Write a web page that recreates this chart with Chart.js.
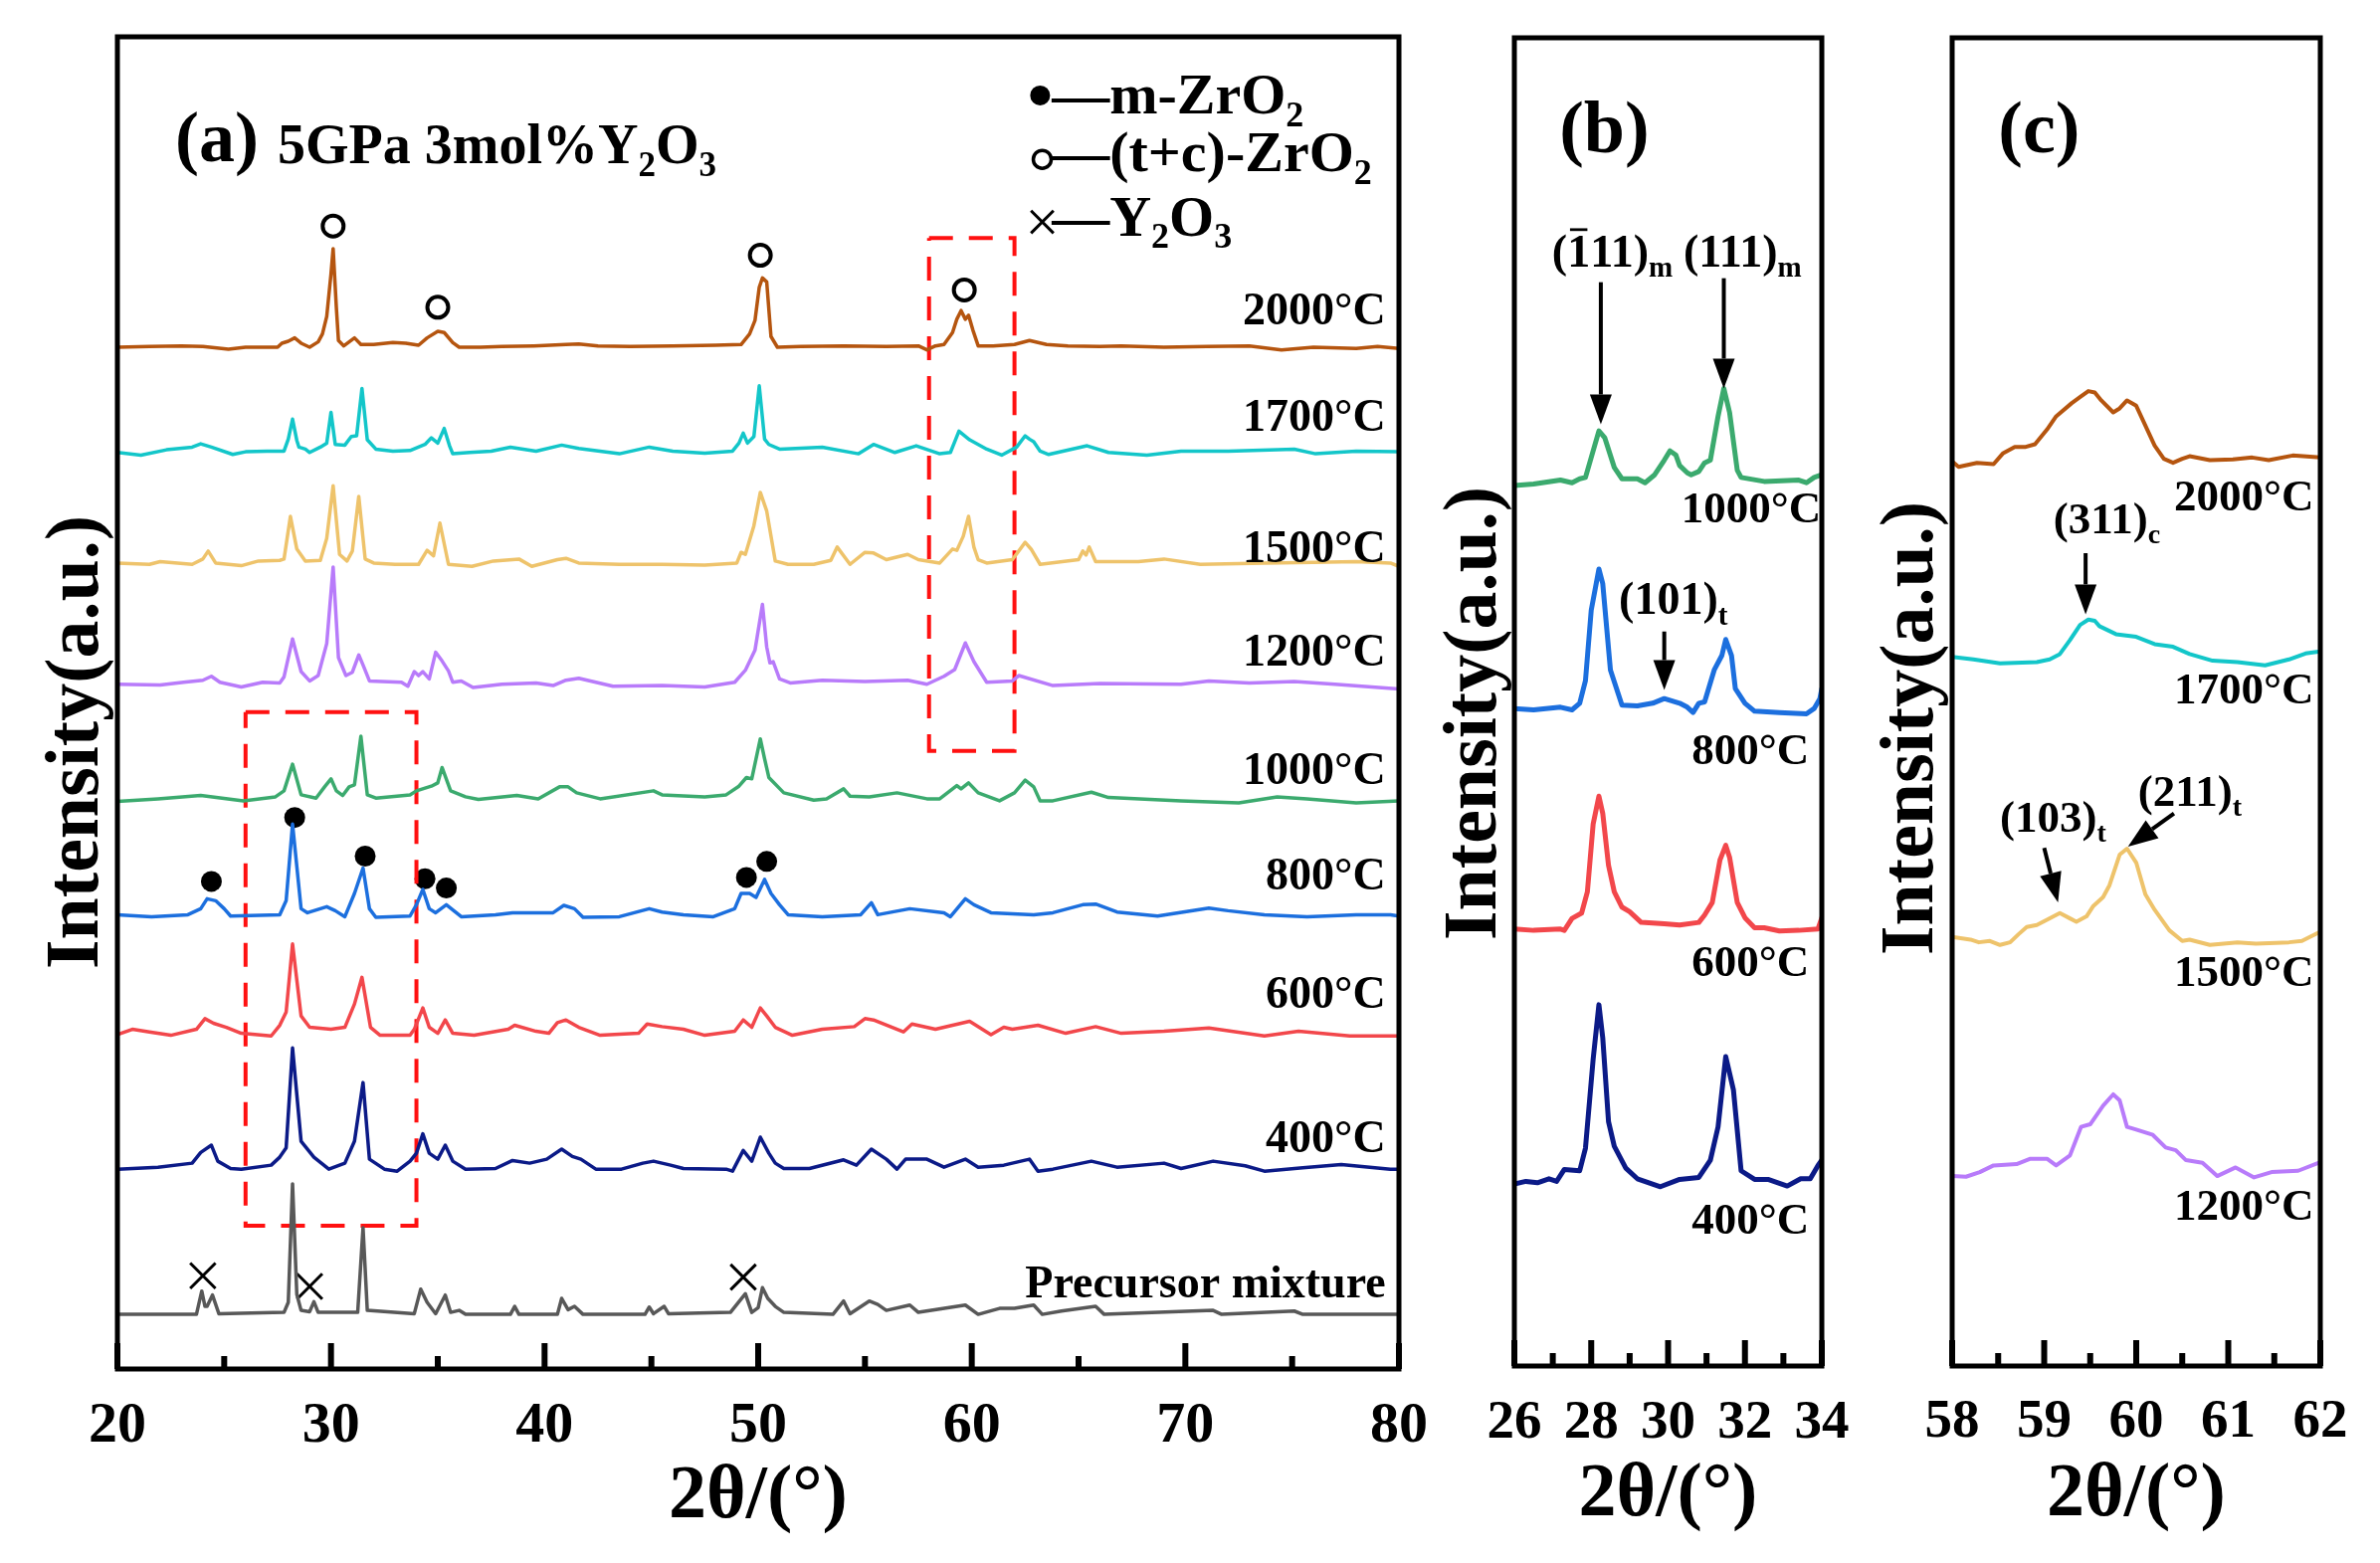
<!DOCTYPE html>
<html lang="en">
<head>
<meta charset="UTF-8">
<title>XRD patterns, 5GPa 3mol% Y2O3</title>
<style>
  body { margin: 0; background: #fff; }
  .panel { position: absolute; left: 0; top: 0; width: 2392px; height: 1571px; }
</style>
</head>
<body>
<div class="panel"><canvas id="chartA"></canvas></div>
<div class="panel"><canvas id="chartB"></canvas></div>
<div class="panel"><canvas id="chartC"></canvas></div>

<script src="https://cdn.jsdelivr.net/npm/chart.js"></script>
<script>
// ---------- panel (a): 2θ 20-80, stacked patterns ----------
const ticksA = [20, 30, 40, 50, 60, 70, 80];
const namesA = ['2000°C', '1700°C', '1500°C', '1200°C', '1000°C', '800°C', '600°C', '400°C', 'Precursor mixture'];
const offsetsA = [76.7, 68.8, 60.5, 51.4, 42.8, 34.1, 25.2, 15.0, 4.1];
const colorsA = ['#B5550F', '#13C6C9', '#EEC36B', '#B87BFA', '#3BAA6E', '#1C6FDE', '#F2474B', '#0B1A87', '#585858'];

// [2θ, intensity above baseline]
const a2000 = [[20,0],[21.5,0.05],[23,0.1],[24,0.05],[25.2,-0.15],[26,0],[27.5,0],[27.7,0.3],[28.0,0.45],[28.3,0.7],[28.6,0.3],[29.0,0],[29.4,0.4],[29.6,1.0],[29.8,2.3],[30.0,5.5],[30.1,7.4],[30.25,3.0],[30.35,0.5],[30.6,0.1],[31.1,0.7],[31.4,0.2],[32.0,0.2],[32.9,0.35],[33.5,0.3],[34.1,0.15],[34.5,0.7],[35.0,1.2],[35.3,1.1],[35.7,0.35],[36.0,0],[37,0],[38,0.05],[39.5,0.1],[41.0,0.2],[41.6,0.25],[42.5,0.1],[44,0.05],[46,0.1],[48,0.15],[49.2,0.2],[49.6,1.0],[49.85,2.0],[50.05,4.5],[50.2,5.2],[50.4,4.9],[50.6,0.8],[50.9,0],[52,0.05],[54,0.1],[56,0.05],[57.5,0.1],[57.9,-0.2],[58.3,0.1],[58.7,0.2],[59.1,1.1],[59.3,2.1],[59.5,2.75],[59.7,2.1],[59.85,2.4],[60.05,1.3],[60.3,0.1],[61,0.1],[62,0.2],[62.7,0.5],[63.5,0.2],[64.5,0.1],[66,0.05],[67,0.1],[69,0],[71,0.05],[73,0.1],[74.5,-0.2],[76,0],[78,-0.1],[79,0.05],[80,-0.1]];
const a1700 = [[20,0],[21.1,-0.2],[22.3,0.2],[23.5,0.4],[23.9,0.65],[24.4,0.4],[25.4,-0.15],[26,0.05],[27,0.1],[27.8,0.1],[28.0,1.0],[28.2,2.5],[28.4,0.9],[28.5,0.4],[28.8,0.25],[29.0,0],[29.5,0.4],[29.8,0.7],[30.0,3.0],[30.2,0.6],[30.65,0.55],[30.95,1.2],[31.2,1.25],[31.45,4.8],[31.7,0.95],[32.1,0.25],[32.9,0.1],[33.7,0.15],[34.4,0.6],[34.7,1.1],[35.0,0.7],[35.3,1.8],[35.55,0.5],[35.7,-0.1],[36.5,0],[37.5,0.1],[38.4,0.4],[39.6,0.1],[40.8,0.55],[41.6,0.3],[43.5,-0.1],[44.9,0.4],[46,0.1],[47.5,-0.05],[48.8,0.1],[49.1,0.7],[49.3,1.45],[49.5,0.7],[49.8,1.2],[50.05,5.0],[50.3,1.0],[50.5,0.6],[51.0,0.25],[53.0,0.4],[54.7,-0.1],[55.4,0.6],[56.4,0],[57.4,0.5],[58.5,-0.1],[59.0,0],[59.2,0.8],[59.4,1.6],[59.9,0.95],[60.7,0.25],[61.4,-0.2],[62.1,0.4],[62.5,1.25],[62.7,1.0],[62.9,0.8],[63.2,0.1],[63.6,-0.15],[65.4,0.5],[66.4,0],[68.2,-0.2],[69.8,0.1],[72,0.1],[75.1,0.25],[76.1,-0.1],[78,0.1],[80,0.05]];
const a1500 = [[20,0],[21.5,-0.1],[22,0.1],[23.5,-0.1],[24.0,0.3],[24.25,0.9],[24.6,0],[25.8,-0.2],[26.6,0.15],[27.6,0.2],[27.8,0.3],[28.1,3.5],[28.4,1.05],[28.8,0.15],[29.5,0.2],[29.8,1.85],[30.1,5.8],[30.4,0.65],[30.75,0.15],[31.0,0.9],[31.3,5.0],[31.6,0.3],[32.0,0],[33.0,-0.1],[34.1,-0.1],[34.5,0.95],[34.8,0.55],[35.1,3.0],[35.5,-0.1],[36.6,-0.25],[37.6,0.15],[38.8,0.3],[39.4,-0.25],[40.6,0.25],[41.0,0.35],[41.6,0],[43.5,-0.1],[45.5,-0.1],[47.5,-0.15],[49.0,0],[49.2,0.8],[49.4,0.65],[49.8,2.8],[50.1,5.3],[50.4,3.9],[50.8,0.15],[51.4,-0.1],[52.6,-0.1],[53.4,0.2],[53.7,1.2],[54.3,-0.1],[55.0,0.8],[55.4,0.75],[56.0,0.25],[57.0,0.65],[57.5,0.25],[58.5,0],[59.1,1.05],[59.3,0.95],[59.6,2.0],[59.85,3.5],[60.1,1.2],[60.3,0.25],[60.7,0],[61.9,0.25],[62.5,1.55],[62.8,1.0],[63.2,-0.1],[65.0,0.25],[65.2,0.9],[65.35,0.6],[65.5,1.2],[65.8,0.1],[67.8,0.1],[69.0,0.3],[70.7,-0.1],[73.7,0],[76,0.05],[78,0.1],[79.6,0],[80,-0.25]];
const a1200 = [[20,0],[22,-0.05],[23.1,0.15],[24.0,0.3],[24.4,0.6],[24.8,0.15],[25.8,-0.2],[26.8,0.15],[27.6,0.1],[27.8,0.55],[28.2,3.4],[28.6,0.95],[29.0,0.25],[29.4,0.65],[29.8,3.05],[30.1,8.8],[30.35,2.0],[30.7,0.65],[31.0,0.9],[31.3,2.2],[31.5,1.45],[31.8,0.25],[33.3,0.15],[33.6,-0.15],[33.9,0.95],[34.1,0.65],[34.3,0.95],[34.6,0.4],[34.9,2.4],[35.2,1.75],[35.5,1.0],[35.7,0.15],[36.1,0.25],[36.65,-0.25],[38,0],[39.6,0.1],[40.4,-0.1],[41.0,0.3],[41.6,0.45],[43.2,-0.15],[45.5,-0.1],[47.5,-0.2],[48.9,0.15],[49.4,1.05],[49.85,2.55],[50.2,6.0],[50.4,2.8],[50.55,1.6],[50.7,1.7],[51.0,0.4],[51.5,0.1],[53.0,0.3],[55,0.2],[57.0,0.3],[57.9,0],[58.7,0.6],[59.2,1.1],[59.7,3.1],[60.1,1.7],[60.7,0.15],[61.9,0.25],[62.2,0.65],[63.8,-0.1],[66,0.05],[69.8,0],[71.1,0.25],[73,0.1],[75.1,0.2],[77,0],[80,-0.35]];
const a1000 = [[20,-0.2],[21.9,0],[23.9,0.25],[25.9,-0.15],[27.4,0.15],[27.8,0.6],[28.2,2.6],[28.6,0.3],[29.3,0.05],[29.7,0.9],[30.0,1.5],[30.25,0.6],[30.55,0.25],[30.85,0.9],[31.1,1.05],[31.4,4.7],[31.7,0.3],[32.1,0.05],[33.7,0.3],[34.0,0.6],[34.7,0.95],[35.0,1.2],[35.2,2.35],[35.6,0.6],[36.3,0.15],[36.9,-0.05],[38.7,0.25],[39.7,0],[40.7,0.9],[41.1,0.9],[41.5,0.45],[42.6,0],[45.1,0.6],[45.5,0.3],[47.5,0.15],[48.5,0.3],[49.1,0.95],[49.45,1.6],[49.7,1.5],[50.1,4.5],[50.3,3.0],[50.5,1.6],[51.2,0.45],[52.6,-0.1],[53.2,0],[54.0,0.75],[54.3,0.2],[55.2,0.15],[56.5,0.45],[57.9,0],[58.5,0],[59.3,1.0],[59.5,0.75],[59.85,1.2],[60.3,0.45],[61.3,-0.15],[62.0,0.45],[62.5,1.4],[62.9,0.9],[63.2,-0.15],[63.8,-0.15],[65.6,0.5],[66.4,0.1],[69.8,-0.15],[72.5,-0.3],[74.3,0.15],[75.7,0],[78.0,-0.3],[80,-0.15]];
const a800 = [[20,0],[21.6,-0.15],[23.3,0],[23.9,0.45],[24.2,1.2],[24.6,1.05],[25.0,0.45],[25.3,-0.1],[27.6,0],[27.9,1.05],[28.2,6.8],[28.6,0.45],[28.9,0.15],[29.8,0.6],[30.2,0.3],[30.65,-0.15],[31.1,1.6],[31.5,3.5],[31.8,0.45],[32.1,-0.2],[33.7,-0.1],[34.0,0.75],[34.3,1.9],[34.6,0.45],[34.9,0.15],[35.4,0.75],[36.1,-0.15],[37.7,0],[38.5,0.15],[40.4,0.15],[40.9,0.7],[41.4,0.45],[41.8,-0.2],[43.5,-0.15],[44.9,0.45],[45.5,0.2],[46.5,0],[47.9,-0.15],[48.9,0.45],[49.2,1.6],[49.6,1.6],[49.9,1.3],[50.3,2.65],[50.6,1.6],[51.0,0.75],[51.4,0],[53.0,-0.15],[54.8,0],[55.3,0.9],[55.6,0],[57.1,0.45],[58.7,0.15],[59.0,-0.15],[59.7,1.2],[60.1,0.75],[60.9,0.15],[62.9,0],[63.8,0.15],[65.2,0.75],[65.8,0.8],[66.8,0.2],[68.7,-0.1],[71.1,0.5],[72,0.3],[73.7,0],[75.7,-0.15],[78,0],[79.6,0],[80,-0.1]];
const a600 = [[20,-0.1],[20.7,0.3],[21.5,0.1],[22.5,-0.15],[23.7,0.3],[24.1,1.1],[24.5,0.75],[25.1,0.45],[25.8,0],[27.2,-0.2],[27.6,0.6],[27.9,1.6],[28.2,6.7],[28.6,1.3],[29.0,0.45],[30.0,0.3],[30.65,0.45],[31.1,2.2],[31.45,4.2],[31.85,0.45],[32.3,-0.15],[33.7,-0.15],[33.9,0.3],[34.3,1.9],[34.6,0.45],[35.0,0],[35.35,1.0],[35.7,0],[36.7,-0.15],[38.3,0.3],[38.6,0.6],[39.6,0.15],[40.2,0],[40.6,0.8],[41.0,1.0],[41.6,0.45],[42.6,-0.15],[44.4,0],[44.8,0.7],[45.5,0.5],[46.5,0.3],[47.5,-0.15],[48.9,0.15],[49.3,1.0],[49.7,0.45],[50.1,1.9],[50.4,1.3],[50.8,0.45],[51.6,-0.15],[53.0,0.3],[54.5,0.5],[55.0,1.1],[55.4,1.0],[56.8,0.1],[57.2,0.7],[58.3,0.3],[59.9,0.9],[60.9,-0.1],[61.5,0.45],[61.9,0.3],[63.1,0.6],[64.4,0],[65.8,0.5],[67.0,0],[69,0.15],[71.1,0.4],[73.7,-0.2],[75.3,0.15],[77.7,-0.2],[80,-0.2]];
const a400 = [[20,0],[21.9,0.15],[23.5,0.45],[23.9,1.25],[24.4,1.8],[24.7,0.6],[25.3,0.05],[25.8,0],[27.2,0.3],[27.6,0.9],[27.9,1.6],[28.2,9.1],[28.6,2.1],[29.2,0.9],[29.9,0],[30.65,0.45],[31.1,2.1],[31.5,6.5],[31.8,0.75],[32.5,0],[33.1,-0.15],[33.7,0.6],[34.0,1.2],[34.3,2.65],[34.6,1.2],[35.0,0.75],[35.35,1.8],[35.7,0.6],[36.3,0],[37.7,0.05],[38.5,0.65],[39.3,0.45],[40.1,0.75],[40.8,1.5],[41.3,0.95],[41.7,0.75],[42.4,0],[43.6,0],[44.6,0.45],[45.1,0.6],[45.9,0.3],[46.5,0.05],[48.5,0],[48.8,-0.15],[49.3,1.4],[49.7,0.6],[50.1,2.4],[50.5,1.2],[50.8,0.45],[51.2,0.05],[52.4,0.05],[54.0,0.7],[54.6,0.3],[55.3,1.5],[56.0,0.75],[56.5,0],[56.9,0.75],[57.9,0.75],[58.7,0.15],[59.7,0.75],[60.3,0.15],[61.5,0.3],[62.7,0.75],[63.1,-0.15],[63.8,0],[65.6,0.6],[66.8,0.15],[69.0,0.45],[69.8,0.05],[71.3,0.6],[72.8,0.25],[73.7,-0.15],[75.5,0.1],[77.3,0.35],[79.6,0],[80,0]];
const aPrecursor = [[20,0],[23.7,0],[23.95,1.75],[24.1,0.6],[24.2,0.6],[24.45,1.45],[24.75,0.05],[27.8,0.15],[28.0,0.9],[28.2,9.8],[28.4,1.5],[28.6,0.3],[29.0,0.2],[29.2,0.95],[29.4,0.15],[31.25,0.15],[31.5,6.5],[31.7,0.3],[33.9,0.05],[34.2,1.9],[34.5,0.9],[34.9,0.05],[35.35,1.45],[35.6,0.15],[36.0,0.3],[36.3,0],[38.4,0],[38.6,0.6],[38.8,0],[40.6,0],[40.8,1.2],[41.1,0.35],[41.4,0.6],[41.8,0],[44.7,0],[44.9,0.55],[45.1,0.05],[45.6,0.6],[45.8,0.05],[48.7,0.15],[49.4,1.55],[49.7,0.15],[50.0,0.5],[50.2,2.0],[50.45,1.2],[50.8,0.6],[51.2,0.15],[53.5,0],[54.0,1.0],[54.3,0.05],[55.2,1.0],[55.6,0.75],[56.0,0.3],[57.1,0.7],[57.5,0.15],[59.7,0.7],[60.3,0],[61.3,0.45],[62.0,0.45],[62.9,0.7],[63.3,0],[64.2,0.25],[65.8,0.6],[66.2,0],[71.3,0.3],[71.7,0],[75.1,0.25],[75.5,0],[80,0]];
const seriesA = [a2000, a1700, a1500, a1200, a1000, a800, a600, a400, aPrecursor];

// phase markers on panel (a): [2θ, a.u.]
const openCircleA = [[30.1, 85.8], [35.0, 79.7], [50.1, 83.6], [59.65, 81.0]];
const filledDotA = [[24.4, 36.6], [28.3, 41.4], [31.6, 38.5], [34.4, 36.8], [35.4, 36.1], [49.45, 36.9], [50.4, 38.1]];
const crossA = [[24.0, 7.0], [29.0, 6.2], [49.3, 6.9]];
// dashed zoom boxes: [x0, x1, y0, y1]
const boxesA = [[26, 34, 10.75, 49.3], [58, 62, 46.4, 84.9]];

// ---------- panel (b): 2θ 26-34 ----------
const ticksB = [26, 28, 30, 32, 34];
const namesB = ['1000°C', '800°C', '600°C', '400°C'];
const offsetsB = [66.5, 49.5, 32.9, 13.8];
const colorsB = ['#3BAA6E', '#1C6FDE', '#F2474B', '#0B1A87'];
const b1000 = [[26.0,-0.2],[26.5,-0.1],[27.2,0.2],[27.5,0],[27.7,0.3],[27.85,0.4],[28.0,1.9],[28.2,3.9],[28.35,3.4],[28.6,1.15],[28.8,0.3],[29.2,0.3],[29.4,0],[29.65,0.6],[29.9,1.7],[30.05,2.4],[30.2,2.1],[30.3,1.3],[30.5,0.75],[30.6,0.6],[30.8,0.85],[30.95,1.5],[31.1,1.7],[31.3,5.0],[31.45,7.1],[31.6,5.3],[31.8,0.95],[31.9,0.4],[32.5,0.1],[33.4,0.2],[33.6,0],[33.8,0.4],[34.0,0.6]];
const b800 = [[26.0,0],[26.5,-0.1],[27.2,0.1],[27.5,-0.1],[27.7,0.4],[27.85,2.1],[28.0,7.4],[28.2,10.5],[28.3,9.4],[28.5,2.9],[28.8,0.25],[29.2,0.2],[29.6,0.4],[29.9,0.75],[30.3,0.4],[30.5,0.1],[30.65,-0.3],[30.8,0.4],[30.95,0.5],[31.2,2.9],[31.4,4.0],[31.5,5.2],[31.65,4.0],[31.75,1.5],[32.0,0.4],[32.25,-0.2],[32.9,-0.3],[33.6,-0.4],[33.8,0],[33.95,0.75],[34.0,1.5]];
const b600 = [[26.0,0],[26.5,-0.1],[27.2,0],[27.3,-0.1],[27.5,0.8],[27.75,1.2],[27.9,2.8],[28.05,7.9],[28.2,10.0],[28.3,8.7],[28.45,4.8],[28.6,2.8],[28.8,1.65],[29.0,1.3],[29.3,0.5],[29.9,0.4],[30.3,0.3],[30.8,0.5],[30.95,1.05],[31.15,2.0],[31.35,5.2],[31.5,6.3],[31.6,5.4],[31.8,2.0],[32.0,0.85],[32.25,0.1],[32.5,0.1],[32.9,-0.15],[33.4,-0.1],[33.9,0],[34.0,0.85]];
const b400 = [[26.0,-0.1],[26.3,0.1],[26.6,0],[26.9,0.3],[27.1,0.1],[27.3,1.0],[27.7,0.9],[27.85,2.6],[28.05,9.3],[28.2,13.4],[28.3,10.9],[28.45,4.6],[28.6,2.75],[28.9,1.1],[29.2,0.3],[29.8,-0.3],[30.3,0.25],[30.8,0.4],[31.1,1.7],[31.3,4.2],[31.5,9.5],[31.7,7.0],[31.9,0.9],[32.25,0.25],[32.6,0.25],[33.1,-0.25],[33.45,0.3],[33.7,0.3],[33.9,1.3],[34.0,1.7]];
const seriesB = [b1000, b800, b600, b400];

// ---------- panel (c): 2θ 58-62 ----------
const ticksC = [58, 59, 60, 61, 62];
const namesC = ['2000°C', '1700°C', '1500°C', '1200°C'];
const offsetsC = [68.1, 53.2, 32.2, 14.3];
const colorsC = ['#B5550F', '#13C6C9', '#EEC36B', '#B87BFA'];
const c2000 = [[58.0,0],[58.07,-0.4],[58.27,-0.1],[58.45,-0.2],[58.55,0.6],[58.68,1.1],[58.8,1.1],[58.9,1.3],[59.03,2.4],[59.13,3.4],[59.3,4.4],[59.4,4.9],[59.48,5.3],[59.55,5.2],[59.62,4.6],[59.75,3.7],[59.82,4.0],[59.9,4.6],[60.0,4.2],[60.1,2.7],[60.2,1.2],[60.3,0.2],[60.4,-0.1],[60.5,0.2],[60.58,0.4],[60.8,0.1],[61.05,0.15],[61.26,0.3],[61.44,0.1],[61.7,0.45],[62.0,0.3]];
const c1700 = [[58.0,0.2],[58.23,0],[58.52,-0.3],[58.92,-0.2],[59.06,0],[59.17,0.4],[59.28,1.45],[59.39,2.6],[59.48,3.0],[59.55,2.9],[59.6,2.5],[59.78,1.9],[60.0,1.7],[60.2,1.15],[60.4,0.95],[60.58,0.4],[60.83,-0.1],[61.1,-0.2],[61.4,-0.45],[61.66,0],[61.84,0.45],[62.0,0.6]];
const c1500 = [[58.0,0.1],[58.2,-0.1],[58.29,-0.3],[58.41,-0.2],[58.52,-0.5],[58.63,-0.3],[58.72,0.3],[58.81,0.85],[58.92,1.0],[59.03,1.4],[59.17,1.9],[59.28,1.5],[59.35,1.25],[59.46,1.65],[59.53,2.4],[59.64,3.1],[59.71,4.0],[59.82,6.3],[59.9,6.75],[60.0,5.7],[60.1,3.3],[60.2,2.15],[60.36,0.6],[60.5,-0.2],[60.58,-0.1],[60.8,-0.5],[61.1,-0.3],[61.3,-0.4],[61.66,-0.3],[61.8,-0.2],[62.0,0.5]];
const c1200 = [[58.0,0],[58.15,-0.05],[58.3,0.3],[58.45,0.8],[58.7,0.9],[58.85,1.3],[59.03,1.3],[59.13,0.8],[59.28,1.55],[59.4,3.7],[59.5,3.9],[59.64,5.3],[59.75,6.15],[59.82,5.7],[59.9,3.7],[60.0,3.5],[60.18,3.1],[60.32,2.15],[60.43,1.95],[60.54,1.2],[60.72,1.0],[60.88,0],[61.08,0.65],[61.28,-0.1],[61.47,0.3],[61.76,0.4],[62.0,1.05]];
const seriesC = [c2000, c1700, c1500, c1200];

// ---------- drawing helpers ----------
const SERIF = '"Liberation Serif", "Times New Roman", serif';
const BLACK = '#000';

function curveSets(series, offsets, colors, names, width) {
  return series.map((pts, i) => ({
    label: names[i],
    data: pts.map(p => ({ x: p[0], y: offsets[i] + p[1] })),
    showLine: true,
    borderColor: colors[i],
    borderWidth: width,
    pointRadius: 0,
    borderJoinStyle: 'round',
    borderCapStyle: 'round'
  }));
}

function markerSet(pts, style, radius, fill, bw) {
  return {
    data: pts.map(p => ({ x: p[0], y: p[1] })),
    showLine: false,
    pointStyle: style,
    pointRadius: radius,
    backgroundColor: fill,
    borderColor: BLACK,
    borderWidth: bw
  };
}

function boxSet(b) {
  return {
    data: [{x: b[0], y: b[3]}, {x: b[1], y: b[3]}, {x: b[1], y: b[2]}, {x: b[0], y: b[2]}, {x: b[0], y: b[3]}],
    showLine: true,
    borderColor: '#FF1010',
    borderWidth: 4,
    borderDash: [24, 16],
    pointRadius: 0
  };
}

// parts: 'text' normal, ['x'] subscript, {bar:'1'} overlined
function drawRich(ctx, parts, x, y, size, align) {
  const main = `bold ${size}px ${SERIF}`;
  const sub = `bold ${Math.round(size * 0.62)}px ${SERIF}`;
  let total = 0;
  const items = parts.map(p => {
    const isSub = Array.isArray(p);
    const bar = !isSub && typeof p === 'object';
    const t = isSub ? p[0] : (bar ? p.bar : p);
    ctx.font = isSub ? sub : main;
    const w = ctx.measureText(t).width;
    total += w;
    return { t, isSub, bar, w };
  });
  let cx = align === 'right' ? x - total : (align === 'center' ? x - total / 2 : x);
  ctx.textAlign = 'left';
  ctx.textBaseline = 'alphabetic';
  ctx.fillStyle = BLACK;
  items.forEach(it => {
    ctx.font = it.isSub ? sub : main;
    ctx.fillText(it.t, cx, it.isSub ? y + size * 0.22 : y);
    if (it.bar) ctx.fillRect(cx + it.w * 0.12, y - size * 0.83, it.w * 0.76, size * 0.06);
    cx += it.w;
  });
}

function decor(cfg) {
  return {
    id: 'decor' + cfg.key,
    afterDraw(chart) {
      const ctx = chart.ctx, a = chart.chartArea;
      const xs = chart.scales.x, ys = chart.scales.y;
      ctx.save();
      ctx.strokeStyle = BLACK;
      ctx.lineCap = 'butt';
      // inward ticks on the bottom axis
      ctx.lineWidth = 6;
      cfg.ticks.forEach((v, i) => {
        const px = xs.getPixelForValue(v);
        ctx.beginPath(); ctx.moveTo(px, a.bottom); ctx.lineTo(px, a.bottom - cfg.major); ctx.stroke();
        if (i < cfg.ticks.length - 1) {
          const mx = xs.getPixelForValue((v + cfg.ticks[i + 1]) / 2);
          ctx.beginPath(); ctx.moveTo(mx, a.bottom); ctx.lineTo(mx, a.bottom - cfg.minor); ctx.stroke();
        }
      });
      // frame
      ctx.lineWidth = 5;
      ctx.strokeRect(a.left, a.top, a.right - a.left, a.bottom - a.top);
      // arrows
      (cfg.arrows || []).forEach(ar => {
        const x1 = xs.getPixelForValue(ar[0]), y1 = ys.getPixelForValue(ar[1]);
        const x2 = xs.getPixelForValue(ar[2]), y2 = ys.getPixelForValue(ar[3]);
        const ang = Math.atan2(y2 - y1, x2 - x1);
        const hl = 30, hw = 11;
        const bx = x2 - hl * Math.cos(ang), by = y2 - hl * Math.sin(ang);
        ctx.lineWidth = 4;
        ctx.beginPath(); ctx.moveTo(x1, y1); ctx.lineTo(bx, by); ctx.stroke();
        ctx.fillStyle = BLACK;
        ctx.beginPath();
        ctx.moveTo(x2, y2);
        ctx.lineTo(bx + hw * Math.sin(ang), by - hw * Math.cos(ang));
        ctx.lineTo(bx - hw * Math.sin(ang), by + hw * Math.cos(ang));
        ctx.closePath(); ctx.fill();
      });
      // text labels placed in data coordinates
      cfg.texts.forEach(t => {
        drawRich(ctx, t.p, xs.getPixelForValue(t.x), ys.getPixelForValue(t.y), t.size, t.align || 'left');
      });
      // y axis title
      ctx.translate(cfg.yTitle[0], cfg.yTitle[1]);
      ctx.rotate(-Math.PI / 2);
      ctx.font = `bold 76px ${SERIF}`;
      ctx.textAlign = 'center';
      ctx.textBaseline = 'alphabetic';
      ctx.fillStyle = BLACK;
      ctx.fillText('Intensity(a.u.)', 0, 0);
      ctx.restore();
    }
  };
}

function makePanel(id, p) {
  return new Chart(document.getElementById(id), {
    type: 'scatter',
    data: { datasets: p.datasets },
    options: {
      responsive: true,
      maintainAspectRatio: false,
      animation: false,
      devicePixelRatio: 1,
      layout: { padding: p.padding },
      plugins: { legend: { display: false }, tooltip: { enabled: false } },
      scales: {
        x: {
          type: 'linear',
          min: p.ticks[0],
          max: p.ticks[p.ticks.length - 1],
          afterBuildTicks: s => { s.ticks = p.ticks.map(v => ({ value: v })); },
          afterFit: s => { s.height = p.axisHeight; },
          grid: { display: false, drawTicks: false },
          border: { display: false },
          ticks: {
            color: BLACK,
            font: { family: SERIF, weight: 'bold', size: p.tickSize },
            padding: p.tickPad,
            maxRotation: 0,
            autoSkip: false,
            callback: v => String(v)
          },
          title: {
            display: true,
            text: '2θ/(°)',
            color: BLACK,
            font: { family: SERIF, weight: 'bold', size: 76 },
            padding: 0
          }
        },
        y: { display: false, min: 0, max: 100 }
      }
    },
    plugins: [decor(p.decor)]
  });
}

// ---------- panel (a) ----------
const tempYA = [78.4, 70.4, 60.6, 52.8, 43.9, 36.0, 27.1, 16.3, 5.4];
makePanel('chartA', {
  ticks: ticksA,
  padding: { left: 118, right: 986, top: 37, bottom: 20 },
  axisHeight: 175,
  tickSize: 58,
  tickPad: 23,
  datasets: [
    ...curveSets(seriesA, offsetsA, colorsA, namesA, 3.5),
    ...boxesA.map(boxSet),
    markerSet(openCircleA, 'circle', 10.5, 'rgba(0,0,0,0)', 4),
    markerSet(filledDotA, 'circle', 10.5, BLACK, 0),
    markerSet(crossA, 'crossRot', 18, BLACK, 3),
    markerSet([[63.2, 95.6]], 'circle', 10, BLACK, 0),
    markerSet([[63.3, 90.8]], 'circle', 9, 'rgba(0,0,0,0)', 3.5),
    markerSet([[63.3, 86.1]], 'crossRot', 16, BLACK, 3)
  ],
  decor: {
    key: 'A', ticks: ticksA, major: 26, minor: 13, yTitle: [98, 746],
    texts: [
      { p: ['(a)'], x: 22.7, y: 90.7, size: 72 },
      { p: ['5GPa 3mol%Y', ['2'], 'O', ['3']], x: 27.5, y: 90.5, size: 56 },
      { p: ['—m-ZrO', ['2']], x: 63.75, y: 94.25, size: 58 },
      { p: ['—(t+c)-ZrO', ['2']], x: 63.75, y: 89.9, size: 58 },
      { p: ['—Y', ['2'], 'O', ['3']], x: 63.75, y: 85.1, size: 58 },
      ...namesA.map((n, i) => ({ p: [n], x: 79.38, y: tempYA[i], size: 46, align: 'right' }))
    ]
  }
});

// ---------- panel (b) ----------
const tempLabB = [[33.98, 63.5], [33.67, 45.3], [33.67, 29.4], [33.67, 10.0]];
makePanel('chartB', {
  ticks: ticksB,
  padding: { left: 1522, right: 561, top: 38, bottom: 22 },
  axisHeight: 176,
  tickSize: 55,
  tickPad: 25,
  datasets: curveSets(seriesB, offsetsB, colorsB, namesB, 5),
  decor: {
    key: 'B', ticks: ticksB, major: 26, minor: 13, yTitle: [1503, 717],
    arrows: [[28.25, 81.6, 28.25, 70.9], [31.45, 81.9, 31.45, 73.6], [29.9, 55.3, 29.9, 50.9]],
    texts: [
      { p: ['(b)'], x: 27.17, y: 91.4, size: 74 },
      { p: ['(', { bar: '1' }, '11)', ['m']], x: 26.98, y: 82.8, size: 46 },
      { p: ['(111)', ['m']], x: 30.4, y: 82.8, size: 46 },
      { p: ['(101)', ['t']], x: 28.72, y: 56.6, size: 46 },
      ...namesB.map((n, i) => ({ p: [n], x: tempLabB[i][0], y: tempLabB[i][1], size: 45, align: 'right' }))
    ]
  }
});

// ---------- panel (c) ----------
const tempYC = [64.4, 49.9, 28.6, 11.0];
makePanel('chartC', {
  ticks: ticksC,
  padding: { left: 1962, right: 60, top: 38, bottom: 22 },
  axisHeight: 176,
  tickSize: 55,
  tickPad: 24,
  datasets: curveSets(seriesC, offsetsC, colorsC, namesC, 4),
  decor: {
    key: 'C', ticks: ticksC, major: 26, minor: 13, yTitle: [1942, 732],
    arrows: [[59.45, 61.2, 59.45, 56.6], [59.0, 39.0, 59.15, 34.9], [60.41, 41.6, 59.91, 39.1]],
    texts: [
      { p: ['(c)'], x: 58.5, y: 91.4, size: 74 },
      { p: ['(311)', ['c']], x: 59.1, y: 62.7, size: 45 },
      { p: ['(211)', ['t']], x: 60.02, y: 42.2, size: 45 },
      { p: ['(103)', ['t']], x: 58.52, y: 40.2, size: 45 },
      ...namesC.map((n, i) => ({ p: [n], x: 61.93, y: tempYC[i], size: 45, align: 'right' }))
    ]
  }
});
</script>
</body>
</html>
